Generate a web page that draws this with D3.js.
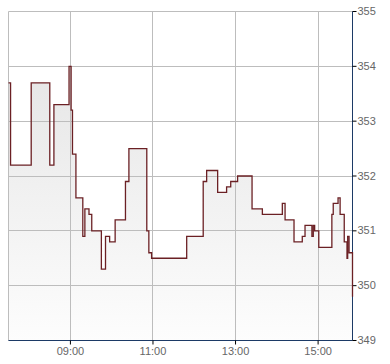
<!DOCTYPE html>
<html>
<head>
<meta charset="utf-8">
<script src="https://cdn.jsdelivr.net/npm/d3@7"></script>
<style>
  body { margin: 0; background: #fff; }
  svg { display: block; }
  .tick text { font-family: "Liberation Sans", Arial, sans-serif; font-size: 11px; fill: #666; }
</style>
</head>
<body>
<svg id="chart" width="390" height="364"></svg>
<script>
// ===== data (step-after series, intraday) =====
var times = ["07:30","07:33","08:03","08:30","08:36","08:58","09:01","09:03","09:08","09:18",
             "09:21","09:27","09:31","09:45","09:51","09:57","10:05","10:20","10:25","10:51",
             "10:54","10:58","11:49","12:13","12:18","12:34","12:47","12:53","13:03","13:24",
             "13:39","14:08","14:12","14:25","14:37","14:41","14:51","14:53","14:55","15:01",
             "15:20","15:22","15:29","15:32","15:38","15:42","15:43","15:45","15:50"];
var prices = [353.7, 352.2, 353.7, 352.2, 353.3, 354.0, 353.2, 352.4, 351.6, 350.9,
              351.4, 351.3, 351.0, 350.3, 350.9, 350.8, 351.2, 351.9, 352.5, 351.0,
              350.6, 350.5, 350.9, 351.9, 352.1, 351.7, 351.8, 351.9, 352.0, 351.4,
              351.3, 351.5, 351.2, 350.8, 350.9, 351.1, 350.9, 351.1, 351.0, 350.7,
              351.3, 351.5, 351.6, 351.3, 350.8, 350.5, 350.9, 350.6, 349.8];
var xDomain = ["07:30", "15:50"];
var xTicks = ["09:00", "11:00", "13:00", "15:00"];
var yTicks = [349, 350, 351, 352, 353, 354, 355];

var parseTime = d3.timeParse("%H:%M");
var data = times.map(function (t, i) { return { t: parseTime(t), v: prices[i] }; });

var margin = { top: 11, left: 8, right: 38, bottom: 24 };
var svg = d3.select("#chart"),
  width = +svg.attr("width") - margin.left - margin.right,
  height = +svg.attr("height") - margin.top - margin.bottom;

var g = svg.append("g").attr("transform", "translate(" + (margin.left + 0.5) + "," + (margin.top + 0.5) + ")");

var x = d3.scaleTime().domain(xDomain.map(parseTime)).range([0, width]);
var y = d3.scaleLinear().domain([349, 355]).range([height, 0]);

// gradient fill under the line
var grad = svg.append("defs").append("linearGradient")
  .attr("id", "fillGrad")
  .attr("gradientUnits", "userSpaceOnUse")
  .attr("x1", 0).attr("x2", 0)
  .attr("y1", y(354)).attr("y2", height);
grad.append("stop").attr("offset", 0).attr("stop-color", "#e6e6e6");
grad.append("stop").attr("offset", 1).attr("stop-color", "#fdfdfd");

// area + line generators
var area = d3.area()
  .curve(d3.curveStepAfter)
  .x(function (d) { return x(d.t); })
  .y0(height)
  .y1(function (d) { return y(d.v); });

var line = d3.line()
  .curve(d3.curveStepAfter)
  .x(function (d) { return x(d.t); })
  .y(function (d) { return y(d.v); });

g.append("path").datum(data).attr("d", area).attr("fill", "url(#fillGrad)");

// grid
g.append("g").selectAll("line")
  .data(yTicks)
  .enter().append("line")
  .attr("x1", 0).attr("x2", width)
  .attr("y1", function (d) { return Math.round(y(d)); })
  .attr("y2", function (d) { return Math.round(y(d)); })
  .attr("stroke", "#bdbdbd");

g.append("g").selectAll("line")
  .data(xTicks.map(parseTime))
  .enter().append("line")
  .attr("x1", function (d) { return Math.round(x(d)); })
  .attr("x2", function (d) { return Math.round(x(d)); })
  .attr("y1", 0).attr("y2", height)
  .attr("stroke", "#bdbdbd");

// left border
g.append("line").attr("x1", 0).attr("x2", 0).attr("y1", 0).attr("y2", height).attr("stroke", "#bdbdbd");

// axes
var xAxis = d3.axisBottom(x)
  .tickValues(xTicks.map(parseTime))
  .tickFormat(d3.timeFormat("%H:%M"))
  .tickSize(4)
  .tickSizeOuter(0)
  .offset(0);

var yAxis = d3.axisRight(y)
  .tickValues(yTicks)
  .tickFormat(d3.format("d"))
  .tickSize(4)
  .tickPadding(1)
  .tickSizeOuter(0)
  .offset(0);

var gx = g.append("g").attr("transform", "translate(0," + height + ")").call(xAxis);
gx.select(".domain").attr("stroke", "#1c3a66");
gx.selectAll(".tick line").attr("stroke", "#000");
gx.selectAll(".tick text").attr("dy", "0.85em").attr("y", 5);

var gy = g.append("g").attr("transform", "translate(" + width + ",0)").call(yAxis);
gy.select(".domain").attr("stroke", "#1c3a66");
gy.selectAll(".tick line").attr("stroke", "#000");

// price line on top
g.append("path").datum(data).attr("d", line)
  .attr("fill", "none")
  .attr("stroke", "#6b2024")
  .attr("stroke-width", 1.3);
</script>
</body>
</html>
